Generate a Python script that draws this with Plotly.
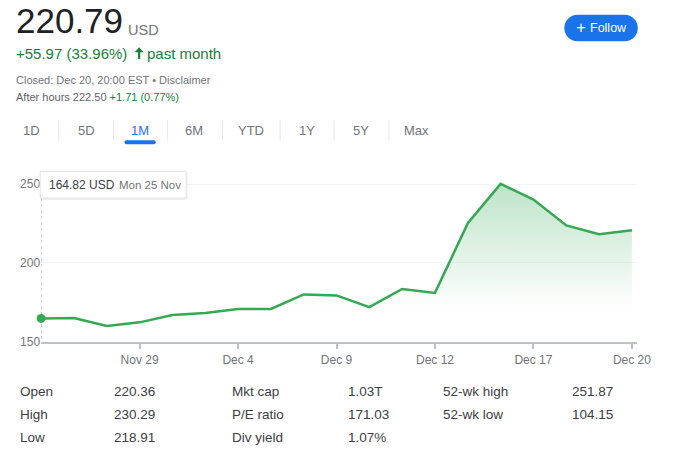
import plotly.graph_objects as go

# ---------------- data ----------------
dates = ["Nov 25", "Nov 26", "Nov 27", "Nov 29", "Dec 2", "Dec 3", "Dec 4", "Dec 5",
         "Dec 6", "Dec 9", "Dec 10", "Dec 11", "Dec 12", "Dec 13", "Dec 16", "Dec 17",
         "Dec 18", "Dec 19", "Dec 20"]
closes = [164.82, 165.0, 160.0, 162.3, 167.0, 168.3, 170.8, 170.8, 180.0, 179.4,
          172.0, 183.5, 181.0, 225.2, 250.2, 240.2, 223.8, 218.3, 220.79]
x_ticks = ["Nov 29", "Dec 4", "Dec 9", "Dec 12", "Dec 17", "Dec 20"]
y_ticks = [150, 200, 250]
ranges = ["1D", "5D", "1M", "6M", "YTD", "1Y", "5Y", "Max"]
active_range = "1M"
stat_labels = [["Open", "High", "Low"], ["Mkt cap", "P/E ratio", "Div yield"], ["52-wk high", "52-wk low"]]
stat_values = [["220.36", "230.29", "218.91"], ["1.03T", "171.03", "1.07%"], ["251.87", "104.15"]]
price = "220.79"
currency = "USD"
change_text = "+55.97 (33.96%)"
period_text = "past month"
closed_text = "Closed: Dec 20, 20:00 EST • Disclaimer"
after_hours = "After hours 222.50"
after_change = "+1.71 (0.77%)"

# ---------------- style ----------------
W, H = 690, 462
FONT = "Liberation Sans, Arial, sans-serif"
GREEN = "#34a853"
TXT_GREEN = "#188038"
GRAY = "#70757a"
DARK = "#202124"
BLUE = "#1a73e8"

plot_left, plot_right, plot_top, plot_bottom = 42, 650, 180, 347


def px(x):
    return x / W


def py(y):
    return 1 - y / H


fig = go.Figure()

fig.add_trace(go.Scatter(
    x=dates, y=closes, mode="lines",
    line=dict(color=GREEN, width=2.5),
    fill="tozeroy",
    fillgradient=dict(type="vertical",
                      colorscale=[[0, "rgba(52,168,83,0)"], [1, "rgba(52,168,83,0.33)"]],
                      start=172, stop=252),
    hoverinfo="skip", showlegend=False))

fig.add_trace(go.Scatter(
    x=dates[:1], y=closes[:1], mode="markers",
    marker=dict(color=GREEN, size=9), cliponaxis=False,
    hoverinfo="skip", showlegend=False))

fig.update_layout(
    width=W, height=H, autosize=False,
    margin=dict(l=0, r=0, t=0, b=0),
    paper_bgcolor="white", plot_bgcolor="white",
    font=dict(family=FONT, color=GRAY),
    xaxis=dict(
        type="category", domain=[px(plot_left), px(plot_right)],
        range=[0, (plot_right - plot_left) / 33.5],
        tickvals=x_ticks, ticktext=x_ticks,
        showgrid=False, zeroline=False,
        showline=True, linecolor="#bdc1c6", linewidth=1.5,
        ticks="outside", ticklen=6, tickcolor="#bdc1c6", tickwidth=1.5,
        tickfont=dict(size=12, color=GRAY),
        fixedrange=True),
    yaxis=dict(
        domain=[py(plot_bottom), py(plot_top)],
        range=[150, 150 + (plot_bottom - plot_top) / 1.6],
        tickvals=y_ticks, showgrid=True, gridcolor="#f1f3f4", gridwidth=1,
        zeroline=False, showline=False, ticks="",
        tickfont=dict(size=12, color=GRAY),
        fixedrange=True),
)

shapes = []
ann = []


def text(x, y, s, size, color, xanchor="left"):
    ann.append(dict(x=px(x), y=py(y), xref="paper", yref="paper", text=s,
                    showarrow=False, xanchor=xanchor, yanchor="middle",
                    borderpad=0, borderwidth=0,
                    font=dict(size=size, color=color, family=FONT)))


def path_str(cmds):
    s = ""
    for cmd, ps in cmds:
        s += cmd + " ".join(f"{px(a):.5f},{py(b):.5f}" for a, b in ps) + " "
    return s + "Z"


def pill(x0, y0, x1, y1):
    r = (y1 - y0) / 2
    k = 0.5523 * r
    return path_str([("M", [(x0 + r, y0)]), ("L", [(x1 - r, y0)]),
                     ("C", [(x1 - r + k, y0), (x1, y0 + r - k), (x1, y0 + r)]),
                     ("C", [(x1, y0 + r + k), (x1 - r + k, y1), (x1 - r, y1)]),
                     ("L", [(x0 + r, y1)]),
                     ("C", [(x0 + r - k, y1), (x0, y1 - r + k), (x0, y1 - r)]),
                     ("C", [(x0, y1 - r - k), (x0 + r - k, y0), (x0 + r, y0)])])


def rect(x0, y0, x1, y1, **kw):
    shapes.append(dict(type="rect", x0=px(x0), x1=px(x1), y0=py(y0), y1=py(y1),
                       xref="paper", yref="paper", layer="above", **kw))


# header
text(16, 21, price, 35, DARK)
text(131, 30, currency, 14.5, GRAY)
text(16, 54, change_text, 15, TXT_GREEN)
text(150, 54, period_text, 15, TXT_GREEN)
# up arrow icon
ax = 142
shapes.append(dict(type="path", xref="paper", yref="paper", layer="above",
                   fillcolor=TXT_GREEN, line=dict(width=0),
                   path=path_str([("M", [(ax, 48)]), ("L", [(ax + 4.6, 53)]), ("L", [(ax + 1.1, 53)]),
                                  ("L", [(ax + 1.1, 60)]), ("L", [(ax - 1.1, 60)]),
                                  ("L", [(ax - 1.1, 53)]), ("L", [(ax - 4.6, 53)])])))
text(16, 81, closed_text, 11, GRAY)
text(16, 98, f"<span style='color:#5f6368'>{after_hours}</span> {after_change}", 11, TXT_GREEN)

# follow button
shapes.append(dict(type="path", path=pill(576, 15, 651, 42), xref="paper", yref="paper",
                   fillcolor=BLUE, line=dict(width=0), layer="above"))
text(593, 28, "+", 17, "white", xanchor="center")
text(602, 28.5, "Follow", 12.5, "white")

# range tabs
tab_x = [32, 88, 143, 198, 256, 313, 368, 425]
sep_x = [60, 116, 171, 227, 286, 341, 397]
for lbl, cx in zip(ranges, tab_x):
    text(cx, 133, lbl, 13, BLUE if lbl == active_range else GRAY, xanchor="center")
for sx in sep_x:
    shapes.append(dict(type="line", x0=px(sx), x1=px(sx), y0=py(122), y1=py(143),
                       xref="paper", yref="paper",
                       line=dict(color="#e8eaed", width=1.2), layer="above"))
ai = ranges.index(active_range)
shapes.append(dict(type="path", path=pill(tab_x[ai] - 16, 142.5, tab_x[ai] + 16, 146.5),
                   xref="paper", yref="paper", fillcolor=BLUE, line=dict(width=0), layer="above"))

# hover line + tooltip
shapes.append(dict(type="line", x0=dates[0], x1=dates[0], y0=py(201), y1=py(plot_bottom),
                   xref="x", yref="paper", line=dict(color="#bdc1c6", width=1.5, dash="dot"),
                   layer="below"))
rect(42, 175, 191.5, 203, fillcolor="rgba(0,0,0,0.06)", line=dict(width=0))
rect(41, 174, 190, 201, fillcolor="white", line=dict(color="#e3e3e3", width=1))
text(50, 187.5, f"{closes[0]:.2f} USD", 12, "#3c4043")
text(121, 187.5, "Mon 25 Nov", 11.5, GRAY)

# stats table
col_lx = [20, 237, 452]
col_vx = [116, 355, 584]
row_y = [398, 421, 444]
for c in range(3):
    for r, (lab, val) in enumerate(zip(stat_labels[c], stat_values[c])):
        text(col_lx[c], row_y[r], lab, 13.5, "#3c4043")
        text(col_vx[c], row_y[r], val, 13.5, "#3c4043")

fig.update_layout(shapes=shapes, annotations=ann)
fig.write_html("out.html")
